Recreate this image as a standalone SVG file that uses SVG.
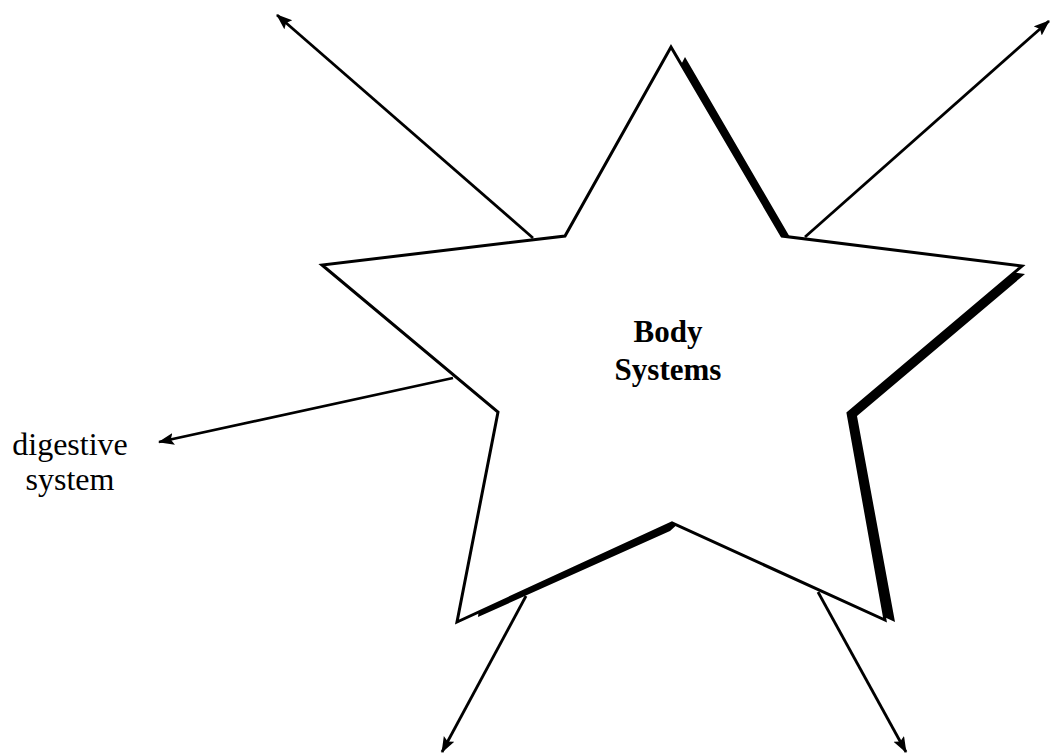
<svg xmlns="http://www.w3.org/2000/svg" width="1050" height="754" viewBox="0 0 1050 754">
<style>
.conn{stroke:#000;stroke-width:2.8;fill:none;marker-end:url(#ah)}
.star{fill:#fff;stroke:#000;stroke-width:3;stroke-linejoin:miter}
.shadow{fill:#000;stroke:none}
.lbl{font-family:"Liberation Serif","Times New Roman",serif;font-size:32px;fill:#000;text-anchor:middle}
.title{font-family:"Liberation Serif","Times New Roman",serif;font-size:31px;font-weight:bold;fill:#000;text-anchor:middle}
</style>
<defs>
<marker id="ah" markerWidth="18" markerHeight="14" refX="15" refY="6" orient="auto" markerUnits="userSpaceOnUse">
<path d="M0,0 L16,6 L0,12 L3,6 z" fill="#000"/>
</marker>
</defs>
<g id="connectors">
<line class="conn" x1="533" y1="238" x2="277" y2="15"/>
<line class="conn" x1="805" y1="237" x2="1049" y2="21"/>
<line class="conn" x1="453" y1="378" x2="159" y2="442"/>
<line class="conn" x1="526" y1="596" x2="442" y2="752"/>
<line class="conn" x1="818" y1="592" x2="906" y2="752"/>
</g>
<g id="star">
<polygon class="shadow" points="685,57 791,239 1025,274 857,416 895,622 680,522 670,531 478,617 498,420 560,300"/>
<polygon class="star" points="671,47 782,236 1022,266 848,413 885,620 672,523 457,622 498,412 322,265 565,236"/>
<text class="title" x="668" y="342">Body</text>
<text class="title" x="668" y="380">Systems</text>
</g>
<g id="digestive">
<text class="lbl" x="70" y="455">digestive</text>
<text class="lbl" x="70" y="490">system</text>
</g>
</svg>
